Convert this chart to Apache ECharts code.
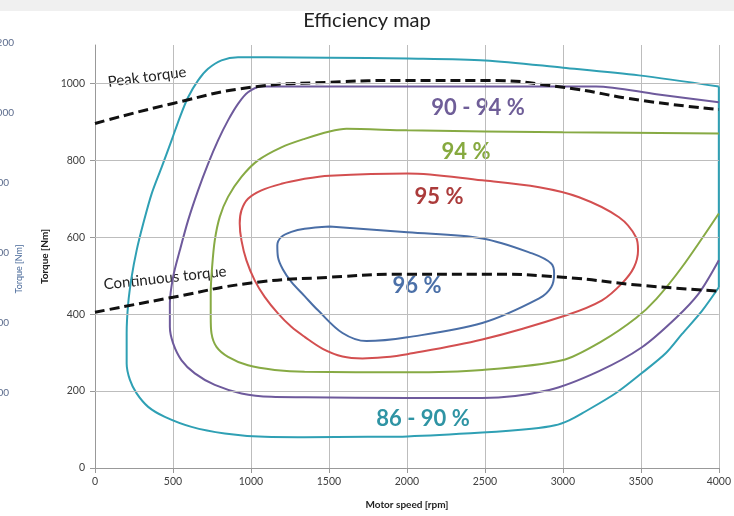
<!DOCTYPE html>
<html><head><meta charset="utf-8">
<script src="https://cdn.jsdelivr.net/npm/echarts@6/dist/echarts.min.js"></script>
<style>html,body{margin:0;padding:0;background:#fff}#c{width:734px;height:516px}</style>
</head><body><div id="c"></div>
<script>
// ---- data (motor speed [rpm], torque [Nm]) ----
const yTicks = [0, 200, 400, 600, 800, 1000];
const peakTorque = [[0,896],[500,948],[1000,990],[1500,1003],[2000,1008],[2500,1008],[3000,990],[3500,956],[4000,932]];
const continuousTorque = [[0,405],[500,444],[1000,481],[1500,496],[2000,504],[2500,504],[3000,496],[3500,475],[4000,460]];
const eff86_90 = [[4000,992],[3488,1021],[3002,1041],[2502,1060],[2003,1065],[1498,1067],[1100,1068],[917,1068],[811,1060],[725,1038],[661,1008],[597,964],[544,912],[491,852],[427,782],[363,713],[309,635],[267,566],[235,497],[213,428],[203,350],[203,272],[224,229],[267,194],[341,159],[448,133],[619,107],[832,90],[1088,81],[1344,80],[1750,81],[2003,82],[2483,92],[2800,102],[2950,111],[3040,124],[3123,142],[3341,195],[3507,247],[3661,299],[3763,348],[3891,408],[4000,470]];
const eff86_90Edge = [[4000,470],[4000,992]];
const eff90_94 = [[4000,951],[3600,972],[3213,992],[2502,992],[1504,992],[1200,992],[1067,992],[981,977],[917,947],[853,904],[789,852],[725,791],[661,722],[597,644],[544,566],[501,497],[480,428],[480,367],[501,324],[555,280],[640,246],[768,216],[939,194],[1131,185],[1344,184],[2003,182],[2483,182],[2912,203],[3232,252],[3507,314],[3725,390],[3872,454],[4000,540]];
const eff94 = [[4000,870],[3000,873],[2000,878],[1613,882],[1504,875],[1344,856],[1195,834],[1045,800],[939,757],[853,705],[800,653],[768,592],[751,523],[742,454],[742,393],[747,350],[779,315],[853,289],[981,267],[1152,255],[1344,250],[2003,249],[2483,255],[2995,280],[3251,330],[3469,390],[3600,440],[3763,522],[4000,662]];
const eff95 = [[1344,752],[1195,739],[1067,722],[981,700],[939,670],[928,636],[939,592],[971,540],[1024,488],[1088,445],[1173,402],[1259,367],[1344,341],[1460,310],[1587,290],[1715,285],[1850,288],[2003,296],[2483,334],[3027,398],[3251,436],[3379,480],[3456,522],[3482,566],[3469,600],[3360,652],[3104,704],[2848,730],[2483,748],[2003,766],[1504,760],[1344,752]];
const eff96 = [[1504,628],[2003,613],[2483,597],[2803,558],[2925,532],[2944,506],[2925,470],[2848,441],[2483,377],[2003,340],[1741,330],[1587,351],[1430,410],[1344,447],[1259,484],[1205,516],[1173,549],[1169,579],[1195,601],[1259,614],[1344,622],[1504,628]];

const C = {cyan:'#2fa0b4', purple:'#6e5a9c', green:'#87aa44', red:'#d34f50', blue:'#4a6ea6'};
const FONT = 'Lato';

function contour(name, data, color, smooth) {
  return {name, type:'line', data, smooth: smooth, symbol:'none', z:3,
    lineStyle:{color, width:2}, silent:true, animation:false};
}

const chart = echarts.init(document.getElementById('c'));
chart.setOption({
  animation:false,
  title:{text:'Efficiency map', left:'center', top:6,
    textStyle:{fontFamily:FONT, fontSize:20, fontWeight:'normal', color:'#222'}},
  grid:{left:95, right:14, top:45, bottom:48},
  xAxis:{type:'value', min:0, max:4000, interval:500,
    name:'Motor speed [rpm]', nameLocation:'middle', nameGap:32,
    nameTextStyle:{fontFamily:FONT, fontSize:10, fontWeight:'bold', color:'#222'},
    axisLine:{lineStyle:{color:'#999'}}, axisTick:{show:true, length:5, lineStyle:{color:'#999'}},
    axisLabel:{fontFamily:FONT, fontSize:10.5, color:'#404040', margin:8, formatter:v => String(v)},
    splitLine:{show:true, lineStyle:{color:'#bdbdbd', width:1}}},
  yAxis:{type:'value', min:0, max:1100, interval:200,
    name:'Torque [Nm]', nameLocation:'middle', nameGap:43, nameRotate:90,
    nameTextStyle:{fontFamily:FONT, fontSize:10, fontWeight:'bold', color:'#222'},
    axisLine:{show:true, lineStyle:{color:'#999'}},
    axisTick:{show:true, length:5, lineStyle:{color:'#999'}, customValues:yTicks},
    axisLabel:{fontFamily:FONT, fontSize:10.5, color:'#404040', margin:10, customValues:yTicks,
      formatter:v => (v > 1000 ? '' : String(v))},
    splitLine:{show:false}},
  series:[
    {type:'line', data:[], z:1, silent:true,
      markLine:{symbol:'none', silent:true, label:{show:false}, animation:false,
        lineStyle:{color:'#bdbdbd', type:'solid', width:1},
        data: yTicks.filter(v => v > 0).map(v => ({yAxis:v}))}},
    contour('86 - 90 %', eff86_90, C.cyan, 0.3),
    {type:'line', data:eff86_90Edge, symbol:'none', z:3, lineStyle:{color:C.cyan, width:2}, silent:true},
    contour('90 - 94 %', eff90_94, C.purple, 0.3),
    contour('94 %', eff94, C.green, 0.3),
    contour('95 %', eff95, C.red, 0.35),
    contour('96 %', eff96, C.blue, 0.35),
    {name:'Peak torque', type:'line', data:peakTorque, smooth:0.5, symbol:'none', z:4, silent:true,
      lineStyle:{color:'#111', width:3, type:[10,5]}},
    {name:'Continuous torque', type:'line', data:continuousTorque, smooth:0.5, symbol:'none', z:4, silent:true,
      lineStyle:{color:'#111', width:3, type:[10,5]}}
  ],
  graphic:[
    {type:'rect', z:-10, shape:{x:0, y:0, width:734, height:11}, style:{fill:'#f0f0f0'}},
    {type:'text', x:147, y:77, rotation:0.13, style:{text:'Peak torque', font:'15px Lato', fill:'#222', textAlign:'center', textVerticalAlign:'middle'}},
    {type:'text', x:165, y:278, rotation:0.11, style:{text:'Continuous torque', font:'15px Lato', fill:'#222', textAlign:'center', textVerticalAlign:'middle'}},
    {type:'text', x:478, y:108, style:{text:'90 - 94 %', font:'bold 22px Lato', fill:'#6f5e98', textAlign:'center', textVerticalAlign:'middle'}},
    {type:'text', x:466, y:152, style:{text:'94 %', font:'bold 22px Lato', fill:'#86a93f', textAlign:'center', textVerticalAlign:'middle'}},
    {type:'text', x:439, y:197, style:{text:'95 %', font:'bold 22px Lato', fill:'#ab3b3b', textAlign:'center', textVerticalAlign:'middle'}},
    {type:'text', x:417, y:286, style:{text:'96 %', font:'bold 22px Lato', fill:'#4b70a8', textAlign:'center', textVerticalAlign:'middle'}},
    {type:'text', x:423, y:419, style:{text:'86 - 90 %', font:'bold 22px Lato', fill:'#2f94a4', textAlign:'center', textVerticalAlign:'middle'}},
    {type:'text', x:14, y:43, style:{text:'200', font:'10px Lato', fill:'#5b6b8c', textAlign:'right', textVerticalAlign:'middle'}},
    {type:'text', x:14, y:113, style:{text:'000', font:'10px Lato', fill:'#5b6b8c', textAlign:'right', textVerticalAlign:'middle'}},
    {type:'text', x:9, y:183, style:{text:'00', font:'10px Lato', fill:'#5b6b8c', textAlign:'right', textVerticalAlign:'middle'}},
    {type:'text', x:9, y:253, style:{text:'00', font:'10px Lato', fill:'#5b6b8c', textAlign:'right', textVerticalAlign:'middle'}},
    {type:'text', x:9, y:323, style:{text:'00', font:'10px Lato', fill:'#5b6b8c', textAlign:'right', textVerticalAlign:'middle'}},
    {type:'text', x:9, y:393, style:{text:'00', font:'10px Lato', fill:'#5b6b8c', textAlign:'right', textVerticalAlign:'middle'}},
    {type:'text', x:19, y:269, rotation:Math.PI/2, style:{text:'Torque [Nm]', font:'9px Lato', fill:'#4a6a9a', textAlign:'center', textVerticalAlign:'middle'}}
  ]
});
</script></body></html>
